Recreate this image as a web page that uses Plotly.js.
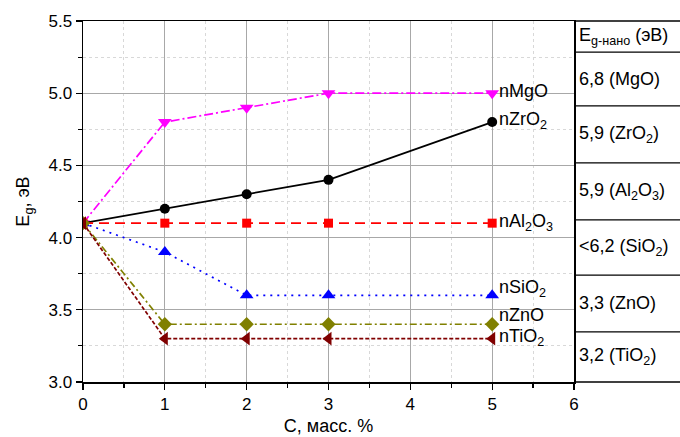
<!DOCTYPE html>
<html>
<head>
<meta charset="utf-8">
<script src="https://cdn.plot.ly/plotly-3.0.1.min.js"></script>
<style>
  html, body { margin: 0; padding: 0; background: #fff; }
  #chart { width: 680px; height: 437px; }
</style>
</head>
<body>
<div id="chart"></div>
<script>
// Band gap of composites vs. nanoparticle content
const conc = [0, 1, 2, 3, 5];

const seriesNames = ['nMgO', 'nZrO<sub>2</sub>', 'nAl<sub>2</sub>O<sub>3</sub>', 'nSiO<sub>2</sub>', 'nZnO', 'nTiO<sub>2</sub>'];
const egMgO  = [4.1, 4.8, 4.9, 5.0, 5.0];
const egZrO2 = [4.1, 4.2, 4.3, 4.4, 4.8];
const egAl2O3 = [4.1, 4.1, 4.1, 4.1, 4.1];
const egSiO2 = [4.1, 3.9, 3.6, 3.6, 3.6];
const egZnO  = [4.1, 3.4, 3.4, 3.4, 3.4];
const egTiO2 = [4.1, 3.3, 3.3, 3.3, 3.3];

// Reference band gaps of the bulk oxides (right-hand table)
const tableHeader = 'E<sub>g-нано</sub> (эВ)';
const tableRows = ['6,8 (MgO)', '5,9 (ZrO<sub>2</sub>)', '5,9 (Al<sub>2</sub>O<sub>3</sub>)',
                   '&lt;6,2 (SiO<sub>2</sub>)', '3,3 (ZnO)', '3,2 (TiO<sub>2</sub>)'];

const FONT = 'Liberation Sans, Arial, sans-serif';

const styles = [
  { color: '#ff00ff', symbol: 'triangle-down', size: 12, dash: '9px,3px,2px,3px' },
  { color: '#000000', symbol: 'circle',        size: 10, dash: 'solid' },
  { color: '#ff0000', symbol: 'square',        size: 9,  dash: '10px,6px' },
  { color: '#0000ff', symbol: 'triangle-up',   size: 12, dash: '2px,5px' },
  { color: '#808000', symbol: 'diamond',       size: 11, dash: '7px,3px,2px,3px' },
  { color: '#800000', symbol: 'triangle-left', size: 12, dash: '4px,2px' }
];
const seriesValues = [egMgO, egZrO2, egAl2O3, egSiO2, egZnO, egTiO2];

const traces = seriesValues.map((ys, i) => ({
  type: 'scatter',
  mode: 'lines+markers',
  x: conc,
  y: ys,
  name: seriesNames[i],
  line: { color: styles[i].color, width: 1.7, dash: styles[i].dash },
  marker: { color: styles[i].color, symbol: styles[i].symbol, size: styles[i].size },
  showlegend: false
}));

// series labels next to the last point
const labelShift = [2, 2, 1, 7, 9, 1];
const annotations = seriesValues.map((ys, i) => ({
  x: conc[conc.length - 1],
  y: ys[ys.length - 1],
  xref: 'x', yref: 'y',
  text: seriesNames[i],
  showarrow: false,
  xanchor: 'left', yanchor: 'middle',
  xshift: 5, yshift: labelShift[i],
  font: { family: FONT, size: 18, color: '#000' }
}));

// table to the right of the plot area
const rowEdges = [1.0, 0.914, 0.765, 0.607, 0.449, 0.296, 0.139, 0.0];
const tableRight = 1.22;
const shapes = [];
rowEdges.forEach(yy => {
  shapes.push({ type: 'line', xref: 'paper', yref: 'paper', x0: 1, x1: tableRight, y0: yy, y1: yy,
                line: { color: '#000', width: 1.3 } });
});
const cellTexts = [tableHeader].concat(tableRows);
cellTexts.forEach((t, i) => {
  annotations.push({
    xref: 'paper', yref: 'paper',
    x: 1.006, y: (rowEdges[i] + rowEdges[i + 1]) / 2,
    text: t, showarrow: false,
    xanchor: 'left', yanchor: 'middle',
    font: { family: FONT, size: 18, color: '#000' }
  });
});

const axisCommon = {
  showline: true, linecolor: '#000', linewidth: 1.5, mirror: true,
  ticks: 'outside', ticklen: 6, tickwidth: 1.3, tickcolor: '#000',
  showgrid: true, gridcolor: '#a8a8a8', gridwidth: 1,
  zeroline: false,
  tickfont: { family: FONT, size: 17, color: '#000' },
  minor: { ticks: 'outside', ticklen: 4, tickwidth: 1.2, tickcolor: '#000',
           showgrid: true, gridcolor: '#d8d8d8', gridwidth: 1, griddash: 'dot' }
};

const layout = {
  width: 680, height: 437,
  margin: { l: 83, r: 106, t: 21, b: 55 },
  paper_bgcolor: '#fff', plot_bgcolor: '#fff',
  font: { family: FONT, color: '#000' },
  xaxis: Object.assign({}, axisCommon, {
    range: [0, 6], dtick: 1, tick0: 0,
    minor: Object.assign({}, axisCommon.minor, { dtick: 0.5 }),
    title: { text: 'C, масс. %', font: { family: FONT, size: 18 }, standoff: 6 }
  }),
  yaxis: Object.assign({}, axisCommon, {
    range: [3.0, 5.5], dtick: 0.5, tick0: 3, tickformat: '.1f',
    minor: Object.assign({}, axisCommon.minor, { dtick: 0.25 }),
    title: { text: 'E<sub>g</sub>, эВ', font: { family: FONT, size: 18 }, standoff: 14 }
  }),
  shapes: shapes,
  annotations: annotations
};

Plotly.newPlot('chart', traces, layout, { staticPlot: true, displayModeBar: false });
</script>
</body>
</html>
